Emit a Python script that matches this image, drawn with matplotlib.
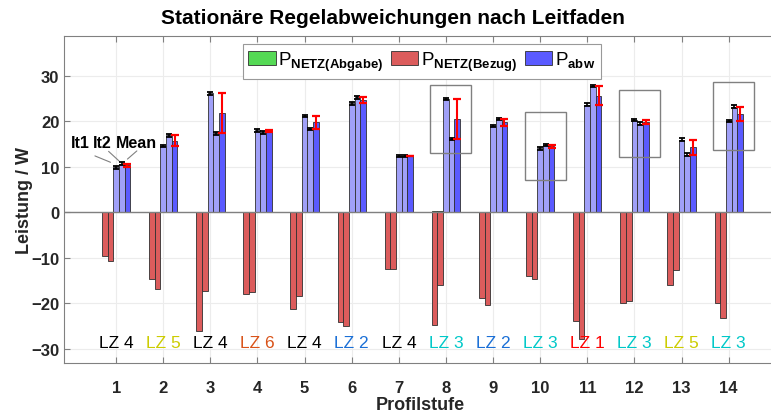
import numpy as np
import matplotlib
matplotlib.use("Agg")
import matplotlib.pyplot as plt
from matplotlib.patches import Patch, Rectangle

plt.rcParams['font.family'] = ['Liberation Sans', 'DejaVu Sans']
plt.rcParams['mathtext.fontset'] = 'custom'
plt.rcParams['mathtext.rm'] = 'Liberation Sans'
plt.rcParams['mathtext.bf'] = 'Liberation Sans:bold'

# Profilstufen 1..14
stufen = np.arange(1, 15)

# P_abw per iteration and mean
abw_it1 = [9.9, 14.6, 26.2, 18.0, 21.2, 24.0, 12.4, 24.9, 19.0, 14.1, 23.7, 20.3, 16.0, 20.1]
abw_it2 = [10.7, 16.9, 17.4, 17.6, 18.3, 25.3, 12.4, 16.1, 20.5, 14.8, 27.8, 19.5, 12.7, 23.2]
abw_mean = [10.3, 15.7, 21.8, 17.8, 19.8, 24.8, 12.4, 20.6, 19.8, 14.5, 25.6, 19.9, 14.3, 21.6]
err_it1 = [0.3, 0.3, 0.3, 0.3, 0.3, 0.3, 0.3, 0.3, 0.3, 0.3, 0.3, 0.3, 0.3, 0.3]
err_it2 = [0.3, 0.3, 0.3, 0.3, 0.3, 0.3, 0.3, 0.3, 0.3, 0.3, 0.3, 0.3, 0.3, 0.3]

# Netz Bezug (negative) and Abgabe (positive)
bezug_it1 = [-9.7, -14.7, -26.2, -18.0, -21.3, -24.2, -12.5, -24.7, -18.8, -14.1, -23.8, -20.0, -16.0, -20.0]
bezug_it2 = [-10.6, -16.9, -17.4, -17.6, -18.3, -25.1, -12.5, -16.0, -20.4, -14.7, -27.8, -19.6, -12.7, -23.2]
abgabe_it1 = [0.1, 0, 0, 0, 0, 0, 0, 0.3, 0, 0.1, 0, 0, 0, 0]
abgabe_it2 = [0, 0, 0, 0, 0, 0, 0, 0.3, 0, 0, 0, 0, 0, 0]

# Lastzonen
zonen = [4, 5, 4, 6, 4, 2, 4, 3, 2, 3, 1, 3, 5, 3]
zonen_farben = {1: '#ff0000', 2: '#1a6fd6', 3: '#00c8c8', 4: '#000000', 5: '#cccc00', 6: '#d95319'}

# highlighted groups
box_stufen = [8, 10, 12, 14]
box_mitte = [20.5, 14.6, 19.5, 21.2]

green = '#55d955'
red = '#dc5c5c'
blue_light = '#a0a0f8'
blue = '#5a5aff'

W, H = 771, 414
fig = plt.figure(figsize=(W / 100, H / 100), dpi=100)
ax = fig.add_axes([64.3 / W, 1 - 364.3 / H, (775.8 - 64.3) / W, (364.3 - 37.3) / H])

w = 0.12
ek = dict(edgecolor='#303030', linewidth=0.6, zorder=2)
ax.bar(stufen - 2 * w, abgabe_it1, w, color=green, **ek)
ax.bar(stufen - w, abgabe_it2, w, color=green, **ek)
ax.bar(stufen - 2 * w, bezug_it1, w, color=red, **ek)
ax.bar(stufen - w, bezug_it2, w, color=red, **ek)
ax.bar(stufen, abw_it1, w, color=blue_light, **ek)
ax.bar(stufen + w, abw_it2, w, color=blue_light, **ek)
ax.bar(stufen + 2 * w, abw_mean, w, color=blue, **ek)

ax.errorbar(stufen, abw_it1, yerr=err_it1, fmt='none', ecolor='k',
            elinewidth=1.2, capsize=2.3, capthick=1.3, zorder=4)
ax.errorbar(stufen + w, abw_it2, yerr=err_it2, fmt='none', ecolor='k',
            elinewidth=1.2, capsize=2.3, capthick=1.3, zorder=4)
lo = np.array(abw_mean) - np.minimum(abw_it1, abw_it2)
hi = np.maximum(abw_it1, abw_it2) - np.array(abw_mean)
ax.errorbar(stufen + 2 * w, abw_mean, yerr=[lo, hi], fmt='none', ecolor='red',
            elinewidth=1.5, capsize=2.6, capthick=1.6, zorder=5)

ax.axhline(0, color='#808080', lw=1, zorder=3)

for s, m in zip(box_stufen, box_mitte):
    ax.add_patch(Rectangle((s - 0.33, m - 7.4), 0.87, 14.8, fill=False,
                           edgecolor='#808080', lw=1, zorder=6))

for s, z in zip(stufen, zonen):
    ax.text(s, -28.6, f'LZ {z}', ha='center', va='center', fontsize=12.5,
            color=zonen_farben[z], zorder=6)

# It1 It2 Mean hints at the first group
for lbl, tx, start, end in [('It1', 0.23, (0.55, 12.4), (1 - w / 2 - 0.06, abw_it1[0] + 1.1)),
                            ('It2', 0.70, (0.84, 13.4), (1 + w / 2, abw_it2[0] + 0.6)),
                            ('Mean', 1.43, (1.44, 13.5), (1 + 2 * w, abw_mean[0] + 1.4))]:
    ax.text(tx, 15.4, lbl, ha='center', va='center', fontsize=11.5, fontweight='bold', zorder=6)
    ax.annotate('', xy=end, xytext=start,
                arrowprops=dict(arrowstyle='-', color='#808080', lw=0.8, shrinkA=0, shrinkB=0))

ax.set_xlim(-0.1, 15)
ax.set_ylim(-33.2, 38.7)
ax.set_xticks(stufen)
ax.set_yticks([-30, -20, -10, 0, 10, 20, 30])
ax.grid(True, color='#ececec', lw=0.8, zorder=0)
ax.set_axisbelow(True)
ax.tick_params(direction='in', length=4, color='#808080', labelsize=12,
               labelcolor='#262626', top=True)
ax.tick_params(axis='x', pad=12)
for lab in ax.get_xticklabels() + ax.get_yticklabels():
    lab.set_fontweight('bold')
for sp in ax.spines.values():
    sp.set_color('#808080')

ax.set_xlabel('Profilstufe', fontsize=13, fontweight='bold', color='#262626', labelpad=1)
ax.set_ylabel('Leistung / W', fontsize=13, fontweight='bold', color='#262626', labelpad=-1)

fig.text(393 / W, 1 - 19 / H, 'Stationäre Regelabweichungen nach Leitfaden',
         ha='center', va='center', fontsize=15, fontweight='bold')

handles = [Patch(facecolor=green, edgecolor='#303030', lw=0.6),
           Patch(facecolor=red, edgecolor='#303030', lw=0.6),
           Patch(facecolor=blue, edgecolor='#303030', lw=0.6)]
labels = [r'$\mathrm{P}_{\mathbf{NETZ(Abgabe)}}$', r'$\mathrm{P}_{\mathbf{NETZ(Bezug)}}$',
          r'$\mathrm{P}_{\mathbf{abw}}$']
leg = ax.legend(handles, labels, loc='upper center', ncol=3,
                bbox_to_anchor=(421.9 / W, 1 - 45 / H), bbox_transform=fig.transFigure,
                fontsize=13.5, frameon=True, fancybox=False, edgecolor='#999999',
                framealpha=1, borderaxespad=0, borderpad=0.3, handlelength=1.45,
                handleheight=0.75, handletextpad=0.15, columnspacing=0.4)
leg.get_frame().set_linewidth(0.8)
leg.set_zorder(7)

fig.savefig('out.png', dpi=100)
